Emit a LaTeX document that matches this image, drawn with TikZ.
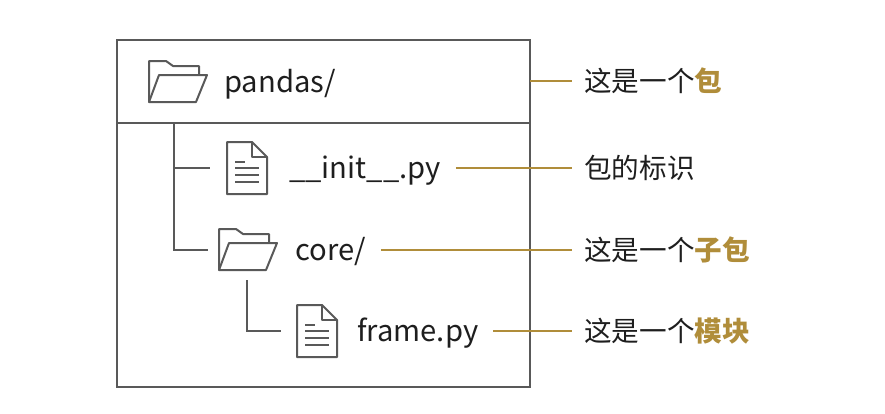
\documentclass[tikz,border=0pt]{standalone}
\usepackage{fontspec}
\usepackage{xcolor}
\usepackage{tikz}
\usetikzlibrary{positioning, calc}
\setmainfont{Noto Sans CJK SC}
\definecolor{linegray}{HTML}{595959}
\definecolor{gold}{HTML}{B08D3A}
\definecolor{inkblack}{HTML}{1E1E1E}
\newcommand{\hl}[1]{\textcolor{gold}{\bfseries #1}}

\begin{document}
\begin{tikzpicture}[
    x=1pt, y=-1pt,
    panel/.style={draw=linegray, line width=2pt, minimum width=413pt, outer sep=0pt, inner sep=0pt},
    iconbox/.style={minimum height=60pt, inner sep=0pt, outer sep=0pt},
    itemname/.style={anchor=west, font=\fontsize{29.2}{34}\selectfont, text=inkblack, text height=20pt, text depth=0pt, inner xsep=15pt, inner ysep=0pt},
    itemnote/.style={anchor=west, font=\fontsize{27.6}{32}\selectfont, text=inkblack, inner xsep=12pt, inner ysep=0pt},
    tree/.style={draw=linegray, line width=2pt},
    leader/.style={draw=gold, line width=2.6pt},
    icon/.style={draw=linegray, line width=2pt, line join=round},
    folder/.pic={
      \draw[icon] (-28,20) -- (-28,-21) -- (-11,-21) -- (-4,-16) -- (22,-16) -- (22,-7);
      \draw[icon] (-28,20) -- (-18,-7) -- (30,-7) -- (19,20) -- cycle;
    },
    sheet/.pic={
      \draw[icon] (-20,-26) -- (5,-26) -- (20,-11) -- (20,26) -- (-20,26) -- cycle;
      \draw[icon] (5,-26) -- (5,-11) -- (20,-11);
      \draw[icon] (-12,-6) -- (-2,-6);
      \draw[icon] (-12,0) -- (12,0);
      \draw[icon] (-12,7) -- (12,7);
      \draw[icon] (-12,14) -- (12,14);
    },
  ]
  \useasboundingbox (0,0) rectangle (885,413);

  % Box
  \node[panel, minimum height=83pt] (header) at (323.5,81) {};
  \node[panel, minimum height=264.5pt] (body) at (323.5,254.75) {};

  % Icons
  \node[iconbox, minimum width=60pt] (pandasicon) at (177,82) {};
  \node[iconbox, minimum width=74pt] (initicon) at (247,168) {};
  \node[iconbox, minimum width=78pt] (coreicon) at (247,250) {};
  \node[iconbox, minimum width=72pt] (frameicon) at (317,331) {};
  \pic at (pandasicon) {folder};
  \pic at (initicon) {sheet};
  \pic at (coreicon) {folder};
  \pic at (frameicon) {sheet};

  % Names
  \node[itemname] (pandasname) at (209,82) {pandas/};
  \node[itemname] (initname) at (274,168) {\_\_init\_\_.py};
  \node[itemname] (corename) at (280,250) {core/};
  \node[itemname] (framename) at (342,331) {frame.py};

  % Notes
  \node[itemnote] (pandasnote) at (572,81) {这是一个\hl{包}};
  \node[itemnote] (initnote) at (572,168) {包的标识};
  \node[itemnote] (corenote) at (572,250) {这是一个\hl{子包}};
  \node[itemnote] (framenote) at (572,331) {这是一个\hl{模块}};

  % Tree lines
  \coordinate (trunk) at (174,123);
  \draw[tree] (trunk) |- (initicon.west);
  \draw[tree] (trunk) |- (coreicon.west);
  \draw[tree] (coreicon.south) |- (frameicon.west);

  % Leaders
  \draw[leader] (header.east) -- (pandasnote.west);
  \draw[leader] (initname.east) -- (initnote.west);
  \draw[leader] (corename.east) -- (corenote.west);
  \draw[leader] (framename.east) -- (framenote.west);
\end{tikzpicture}
\end{document}
